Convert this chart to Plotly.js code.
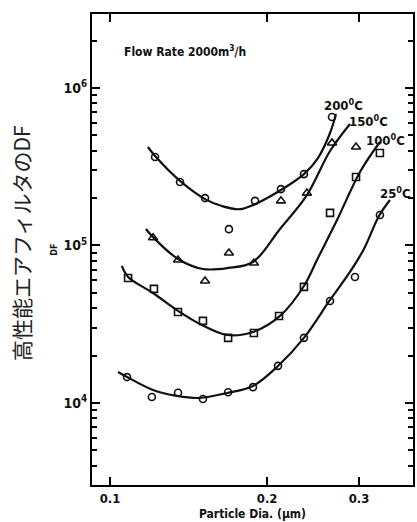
<!DOCTYPE html>
<html>
<head>
<meta charset="utf-8">
<script src="https://cdn.plot.ly/plotly-3.0.1.min.js"></script>
<style>
  html, body { margin: 0; padding: 0; background: #fff; }
  #chart { width: 417px; height: 522px; }
</style>
</head>
<body>
<div id="chart"></div>
<script>
// ---- measured points (particle diameter in µm, DF) ----
var x200 = [0.1220, 0.1362, 0.1521, 0.1690, 0.1896, 0.2126, 0.2353, 0.2663];
var y200 = [3.65e5, 2.53e5, 2.00e5, 1.27e5, 1.92e5, 2.28e5, 2.84e5, 6.55e5];

var x150 = [0.1209, 0.1350, 0.1521, 0.1690, 0.1887, 0.2126, 0.2384, 0.2663, 0.2961];
var y150 = [1.12e5, 8.09e4, 5.95e4, 8.96e4, 7.74e4, 1.92e5, 2.15e5, 4.48e5, 4.22e5];

var x100 = [0.1083, 0.1214, 0.1350, 0.1507, 0.1684, 0.1887, 0.2108, 0.2353, 0.2640, 0.2961, 0.3290];
var y100 = [6.22e4, 5.30e4, 3.78e4, 3.32e4, 2.59e4, 2.78e4, 3.57e4, 5.46e4, 1.61e5, 2.72e5, 3.87e5];

var x25 = [0.1078, 0.1203, 0.1350, 0.1507, 0.1684, 0.1879, 0.2099, 0.2353, 0.2640, 0.2947, 0.3290];
var y25 = [1.46e4, 1.09e4, 1.16e4, 1.06e4, 1.17e4, 1.26e4, 1.72e4, 2.59e4, 4.44e4, 6.31e4, 1.56e5];

// ---- hand-drawn fit curves ----
var cx200 = [0.1182, 0.1220, 0.1362, 0.1521, 0.1639, 0.1775, 0.1896, 0.2126, 0.2353, 0.2503, 0.2640, 0.2710];
var cy200 = [4.22e5, 3.70e5, 2.57e5, 1.97e5, 1.78e5, 1.70e5, 1.83e5, 2.25e5, 2.84e5, 3.59e5, 5.18e5, 6.84e5];

var cx150 = [0.1172, 0.1209, 0.1350, 0.1507, 0.1684, 0.1879, 0.2117, 0.2384, 0.2640, 0.2883];
var cy150 = [1.273e5, 1.13e5, 8.21e4, 7.09e4, 7.20e4, 7.86e4, 1.273e5, 2.09e5, 3.98e5, 5.91e5];

var cx100 = [0.1054, 0.1083, 0.1209, 0.1350, 0.1487, 0.1676, 0.1879, 0.2117, 0.2353, 0.2503, 0.2723, 0.3013, 0.3290];
var cy100 = [7.41e4, 6.31e4, 4.99e4, 3.84e4, 3.17e4, 2.70e4, 2.82e4, 3.57e4, 5.53e4, 8.33e4, 1.45e5, 2.93e5, 4.54e5];

var cx25 = [0.1036, 0.1078, 0.1209, 0.1344, 0.1487, 0.1676, 0.1879, 0.2099, 0.2353, 0.2640, 0.2883, 0.3066, 0.3276, 0.3439];
var cy25 = [1.573e4, 1.462e4, 1.209e4, 1.108e4, 1.076e4, 1.157e4, 1.282e4, 1.718e4, 2.59e4, 4.51e4, 6.79e4, 9.50e4, 1.54e5, 1.945e5];

// ---- labels ----
var seriesLabels = ["200<sup>0</sup>C", "150<sup>0</sup>C", "100<sup>0</sup>C", "25<sup>0</sup>C"];
var xTickVals = [0.1, 0.2, 0.3];
var xTickText = ["0.1", "0.2", "0.3"];
var yTickVals = [1e4, 1e5, 1e6];
var yTickText = ["10<sup>4</sup>", "10<sup>5</sup>", "10<sup>6</sup>"];
var yMinorVals = [4e3, 5e3, 6e3, 7e3, 8e3, 9e3,
                  2e4, 3e4, 4e4, 5e4, 6e4, 7e4, 8e4, 9e4,
                  2e5, 3e5, 4e5, 5e5, 6e5, 7e5, 8e5, 9e5, 2e6];
var xTitle = "Particle Dia. (\u03bcm)";
var yTitle = "DF";
var outerTitle = "高性能エアフィルタのDF";
var noteText = "Flow Rate 2000m<sup>3</sup>/h";

var FONT = "'DejaVu Sans Condensed', 'Liberation Sans Narrow', 'Arial Narrow', sans-serif";
var INK = "#111";

function markers(x, y, sym, size) {
  return {
    x: x, y: y, type: "scatter", mode: "markers", showlegend: false, hoverinfo: "x+y",
    marker: { symbol: sym, size: size, color: INK, line: { color: INK, width: 1.6 } }
  };
}
function curve(x, y) {
  return {
    x: x, y: y, type: "scatter", mode: "lines", showlegend: false, hoverinfo: "skip",
    line: { color: INK, width: 2.2, shape: "spline", smoothing: 1 }
  };
}

var data = [
  curve(cx200, cy200), curve(cx150, cy150), curve(cx100, cy100), curve(cx25, cy25),
  markers(x200, y200, "circle-open", 7),
  markers(x150, y150, "triangle-up-open", 8),
  markers(x100, y100, "square-open", 7),
  markers(x25, y25, "circle-open", 7)
];

var labelPos = [[0.785, 0.807], [0.860, 0.773], [0.913, 0.732], [0.944, 0.620]];
var annotations = seriesLabels.map(function (t, i) {
  return {
    text: "<b>" + t + "</b>", xref: "paper", yref: "paper", x: labelPos[i][0], y: labelPos[i][1],
    showarrow: false, xanchor: "center", yanchor: "middle",
    font: { family: FONT, size: 13, color: INK }
  };
});
annotations.push({
  text: "<b>" + noteText + "</b>", xref: "paper", yref: "paper", x: 0.093, y: 0.921,
  showarrow: false, xanchor: "left", yanchor: "middle",
  font: { family: FONT, size: 12, color: INK }
});
annotations.push({
  text: outerTitle, xref: "paper", yref: "paper", x: -0.221, y: 0.514, textangle: -90,
  showarrow: false, xanchor: "center", yanchor: "middle",
  font: { family: "'Noto Sans CJK JP', 'Noto Sans', sans-serif", size: 21, color: "#222" }
});

var layout = {
  width: 417, height: 522,
  margin: { l: 92, r: 4, t: 14, b: 37 },
  showlegend: false,
  xaxis: {
    type: "log", range: [-1.0345, -0.4194],
    tickmode: "array", tickvals: xTickVals,
    ticktext: xTickText.map(function (s) { return "<b>" + s + "</b>"; }),
    ticks: "inside", ticklen: 8, tickwidth: 2, tickcolor: "black",
    showline: true, linewidth: 2, linecolor: "black", mirror: "allticks",
    showgrid: false, zeroline: false,
    tickfont: { family: FONT, size: 13, color: INK },
    title: { text: "<b>" + xTitle + "</b>", font: { family: FONT, size: 12, color: INK }, standoff: 5 }
  },
  yaxis: {
    type: "log", range: [3.479, 6.470],
    tickmode: "array", tickvals: yTickVals,
    ticktext: yTickText.map(function (s) { return "<b>" + s + "</b>"; }),
    ticks: "inside", ticklen: 8, tickwidth: 2, tickcolor: "black",
    minor: { tickmode: "array", tickvals: yMinorVals, ticks: "inside", ticklen: 5, tickwidth: 2, tickcolor: "black", showgrid: false },
    showline: true, linewidth: 2, linecolor: "black", mirror: "allticks",
    showgrid: false, zeroline: false,
    tickfont: { family: FONT, size: 14, color: INK },
    title: { text: "<b>" + yTitle + "</b>", font: { family: FONT, size: 9, color: INK }, standoff: 4 }
  },
  annotations: annotations
};

Plotly.newPlot("chart", data, layout, { displayModeBar: false, staticPlot: true }).then(function (gd) {
  // make sure the tick marks are painted solid black
  var ticks = gd.querySelectorAll("path.xtick, path.ytick");
  for (var i = 0; i < ticks.length; i++) {
    ticks[i].style.stroke = "#000";
    ticks[i].style.strokeOpacity = "1";
  }
});
</script>
</body>
</html>
